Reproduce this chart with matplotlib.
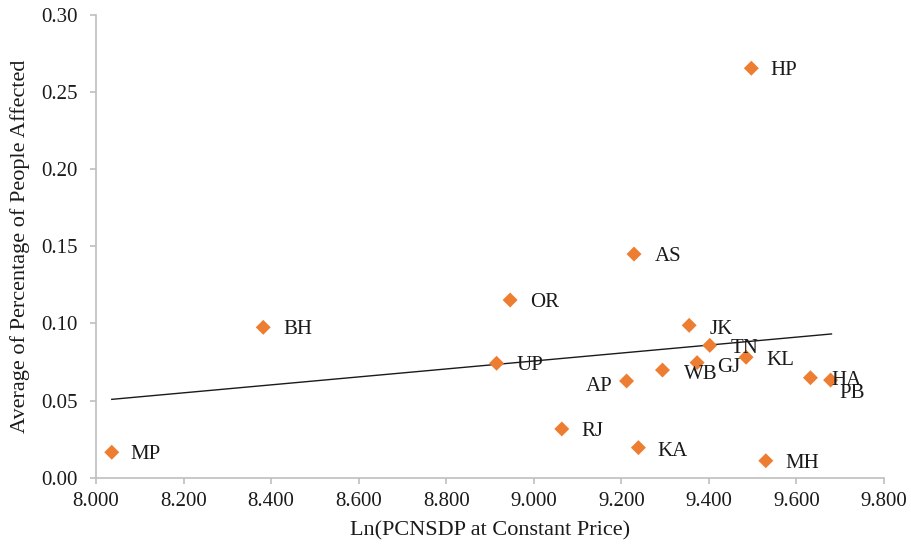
import numpy as np
import matplotlib
matplotlib.use("Agg")
import matplotlib.pyplot as plt
from matplotlib.ticker import FormatStrFormatter

states = ["HP", "AS", "OR", "BH", "MP", "UP", "JK", "TN", "KL", "GJ",
          "WB", "AP", "HA", "PB", "RJ", "KA", "MH"]
ln_pcnsdp = [9.497, 9.229, 8.946, 8.382, 8.036, 8.915, 9.355, 9.402, 9.485, 9.373,
             9.294, 9.212, 9.632, 9.678, 9.064, 9.239, 9.530]
pct_affected = [0.2655, 0.1450, 0.1152, 0.0975, 0.0165, 0.0742, 0.0988, 0.0858, 0.0781, 0.0746,
                0.0698, 0.0627, 0.0648, 0.0633, 0.0316, 0.0195, 0.0110]
trend_x = [8.036, 9.680]
trend_y = [0.0508, 0.0932]

xticks = [8.0, 8.2, 8.4, 8.6, 8.8, 9.0, 9.2, 9.4, 9.6, 9.8]
yticks = [0.00, 0.05, 0.10, 0.15, 0.20, 0.25, 0.30]

# label offsets in pixels (dx, dy, ha)
label_off = {
    "HP": (19, 0, "left"), "AS": (21, 0, "left"), "OR": (20, 0, "left"),
    "BH": (20, 0, "left"), "MP": (19, 0, "left"), "UP": (20, 0, "left"),
    "JK": (20, -2, "left"), "TN": (21, -1.5, "left"), "KL": (20, -1, "left"),
    "GJ": (20, -3, "left"), "WB": (21, -2, "left"), "AP": (-14, -4, "right"),
    "HA": (21, -0.5, "left"), "PB": (8.5, -11.5, "left"), "RJ": (20, -1, "left"),
    "KA": (19, -1.5, "left"), "MH": (20, -1, "left"),
}

plt.rcParams["font.family"] = ["Liberation Serif", "DejaVu Serif"]

fig = plt.figure(figsize=(9.11, 5.46), dpi=100)
ax = fig.add_axes([96/911, 1-477.7/546, (884-96)/911, (477.7-15)/546])

ax.plot(trend_x, trend_y, color="#1a1a1a", lw=1.0, zorder=2)
ax.scatter(ln_pcnsdp, pct_affected, marker="D", s=58, color="#ED7D31",
           edgecolors="none", zorder=3)

for name, x, y in zip(states, ln_pcnsdp, pct_affected):
    dx, dy, ha = label_off[name]
    ax.annotate(name, (x, y), xytext=(dx*0.72, (dy-2)*0.72), textcoords="offset points",
                ha=ha, va="center", fontsize=15, color="#1a1a1a", zorder=4)

ax.set_xlim(8.0, 9.8)
ax.set_ylim(0.0, 0.30)
ax.set_xticks(xticks)
ax.set_yticks(yticks)
ax.xaxis.set_major_formatter(FormatStrFormatter("%.3f"))
ax.yaxis.set_major_formatter(FormatStrFormatter("%.2f"))

for s in ["top", "right"]:
    ax.spines[s].set_visible(False)
for s in ["left", "bottom"]:
    ax.spines[s].set_color("#BFBFBF")
    ax.spines[s].set_linewidth(1.2)
ax.tick_params(axis="both", direction="out", length=4.5, width=1.2, color="#BFBFBF",
               labelsize=15, labelcolor="#1a1a1a")
ax.tick_params(axis="y", pad=9)
ax.tick_params(axis="x", pad=6)

ax.set_xlabel("Ln(PCNSDP at Constant Price)", fontsize=16, color="#1a1a1a", labelpad=7)
ax.set_ylabel("Average of Percentage of People Affected", fontsize=16, color="#1a1a1a", labelpad=8)

fig.savefig("out.png", dpi=100, facecolor="white")
